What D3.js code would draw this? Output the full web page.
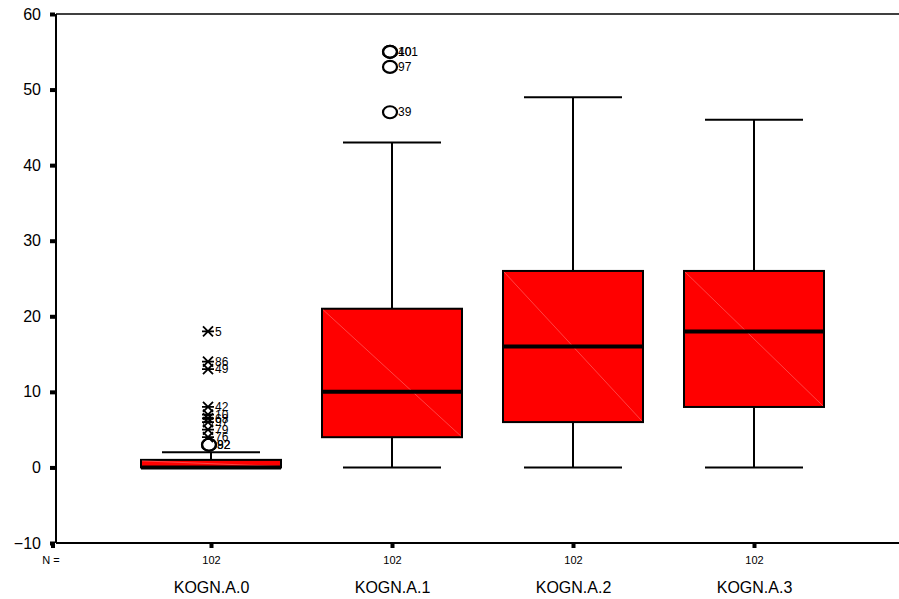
<!DOCTYPE html>
<html><head><meta charset="utf-8">
<script src="https://cdn.jsdelivr.net/npm/d3@7"></script>
<style>body{margin:0;background:#fff}svg{display:block;font-family:"Liberation Sans",Arial,sans-serif}</style>
</head><body>
<svg id="c" width="899" height="599"></svg>
<script>
const categories = ["KOGN.A.0","KOGN.A.1","KOGN.A.2","KOGN.A.3"];
const nCounts = [102,102,102,102];
const whiskerLow = [0,0,0,0];
const q1 = [0,4,6,8];
const median = [0,10,16,18];
const q3 = [1,21,26,26];
const whiskerHigh = [2,43,49,46];
// outliers: [categoryIndex, value, caseLabel]
const outliers = [[0,3,"82"],[0,3,"92"],[1,55,"40"],[1,55,"101"],[1,53,"97"],[1,47,"39"]];
// extreme values (asterisks)
const extremes = [[0,18,"5"],[0,14,"86"],[0,13,"49"],[0,8,"42"],[0,7,"10"],[0,6.5,"68"],[0,6,"97"],[0,5,"79"],[0,4,"76"]];
const yTicks = [-10,0,10,20,30,40,50,60];

(function(){
const svg = d3.select("#c");
const y = d3.scaleLinear().domain([-10,60]).range([543,14]);
const x = d3.scalePoint().domain(categories).range([211,754]);
const pLeft = 56, pRight = 899, pTop = 14, pBottom = 543;
const boxW = 140, capW = 98;

// frame
svg.append("line").attr("x1",pLeft).attr("x2",pRight).attr("y1",pTop).attr("y2",pTop).attr("stroke","#000").attr("stroke-width",1.6);
svg.append("line").attr("x1",pLeft).attr("x2",pRight).attr("y1",pBottom).attr("y2",pBottom).attr("stroke","#000").attr("stroke-width",2);
svg.append("line").attr("x1",pLeft).attr("x2",pLeft).attr("y1",pTop).attr("y2",pBottom).attr("stroke","#000").attr("stroke-width",2);

// y axis ticks and labels
const yAxis = d3.axisLeft(y).tickValues(yTicks).tickSize(0).tickPadding(0).tickFormat(d3.format("d"));
const gy = svg.append("g").attr("transform",`translate(${pLeft},0)`).call(yAxis);
gy.select(".domain").remove();
gy.selectAll(".tick text").attr("x",-15).attr("font-size",16).attr("fill","#000").attr("font-family","Liberation Sans, Arial, sans-serif");
gy.selectAll(".tick").append("rect").attr("x",-6).attr("y",-2).attr("width",5).attr("height",4).attr("fill","#000");

// x axis
const xAxis = d3.axisBottom(x).tickSize(0).tickPadding(0).tickFormat(()=>"");
const gx = svg.append("g").attr("transform",`translate(0,${pBottom})`).call(xAxis);
gx.select(".domain").remove();
gx.selectAll(".tick").append("rect").attr("x",-2).attr("y",1).attr("width",4).attr("height",4).attr("fill","#000");
gx.selectAll(".tick").append("text").attr("y",17).attr("text-anchor","middle").attr("dy","0.35em").attr("font-size",11).attr("fill","#000").text((d,i)=>nCounts[i]);
gx.selectAll(".tick").append("text").attr("y",44).attr("text-anchor","middle").attr("dy","0.35em").attr("font-size",16).attr("fill","#000").text(d=>d);
svg.append("rect").attr("x",51).attr("y",pBottom+1).attr("width",4).attr("height",4).attr("fill","#000");
svg.append("text").attr("x",51).attr("y",pBottom+17).attr("dy","0.35em").attr("text-anchor","middle").attr("font-size",11).text("N =");

// boxes
const g = svg.append("g");
categories.forEach((c,i)=>{
  const cx = x(c);
  g.append("line").attr("x1",cx).attr("x2",cx).attr("y1",y(whiskerHigh[i])).attr("y2",y(q3[i])).attr("stroke","#000").attr("stroke-width",2);
  g.append("line").attr("x1",cx).attr("x2",cx).attr("y1",y(q1[i])).attr("y2",y(whiskerLow[i])).attr("stroke","#000").attr("stroke-width",2);
  g.append("line").attr("x1",cx-capW/2).attr("x2",cx+capW/2).attr("y1",y(whiskerHigh[i])).attr("y2",y(whiskerHigh[i])).attr("stroke","#000").attr("stroke-width",2);
  g.append("line").attr("x1",cx-capW/2).attr("x2",cx+capW/2).attr("y1",y(whiskerLow[i])).attr("y2",y(whiskerLow[i])).attr("stroke","#000").attr("stroke-width",2);
  const bt = y(q3[i]), bb = y(q1[i]);
  g.append("rect").attr("x",cx-boxW/2).attr("y",bt).attr("width",boxW).attr("height",bb-bt).attr("fill","#ff0000").attr("stroke","#000").attr("stroke-width",2);
  g.append("line").attr("x1",cx-boxW/2+1).attr("y1",bt+1).attr("x2",cx+boxW/2-1).attr("y2",bb-1).attr("stroke","#ff7070").attr("stroke-width",0.6);
  g.append("line").attr("x1",cx-boxW/2).attr("x2",cx+boxW/2).attr("y1",y(median[i])).attr("y2",y(median[i])).attr("stroke","#000").attr("stroke-width",4);
});

outliers.forEach(([ci,v,lab])=>{
  const cx = x(categories[ci]) - 2;
  g.append("ellipse").attr("cx",cx).attr("cy",y(v)).attr("rx",7).attr("ry",6).attr("fill","none").attr("stroke","#000").attr("stroke-width",2.2);
  g.append("text").attr("x",cx+8).attr("y",y(v)).attr("dy","0.35em").attr("font-size",12).text(lab);
});
extremes.forEach(([ci,v,lab])=>{
  const cx = x(categories[ci]) - 3, cy = y(v), s = 5;
  const p = `M${cx-s},${cy-s}L${cx+s},${cy+s}M${cx-s},${cy+s}L${cx+s},${cy-s}M${cx-s-1},${cy}L${cx+s+1},${cy}`;
  g.append("path").attr("d",p).attr("stroke","#000").attr("stroke-width",1.8).attr("fill","none");
  g.append("text").attr("x",cx+7).attr("y",cy).attr("dy","0.35em").attr("font-size",12).text(lab);
});
})();
</script>
</body></html>
